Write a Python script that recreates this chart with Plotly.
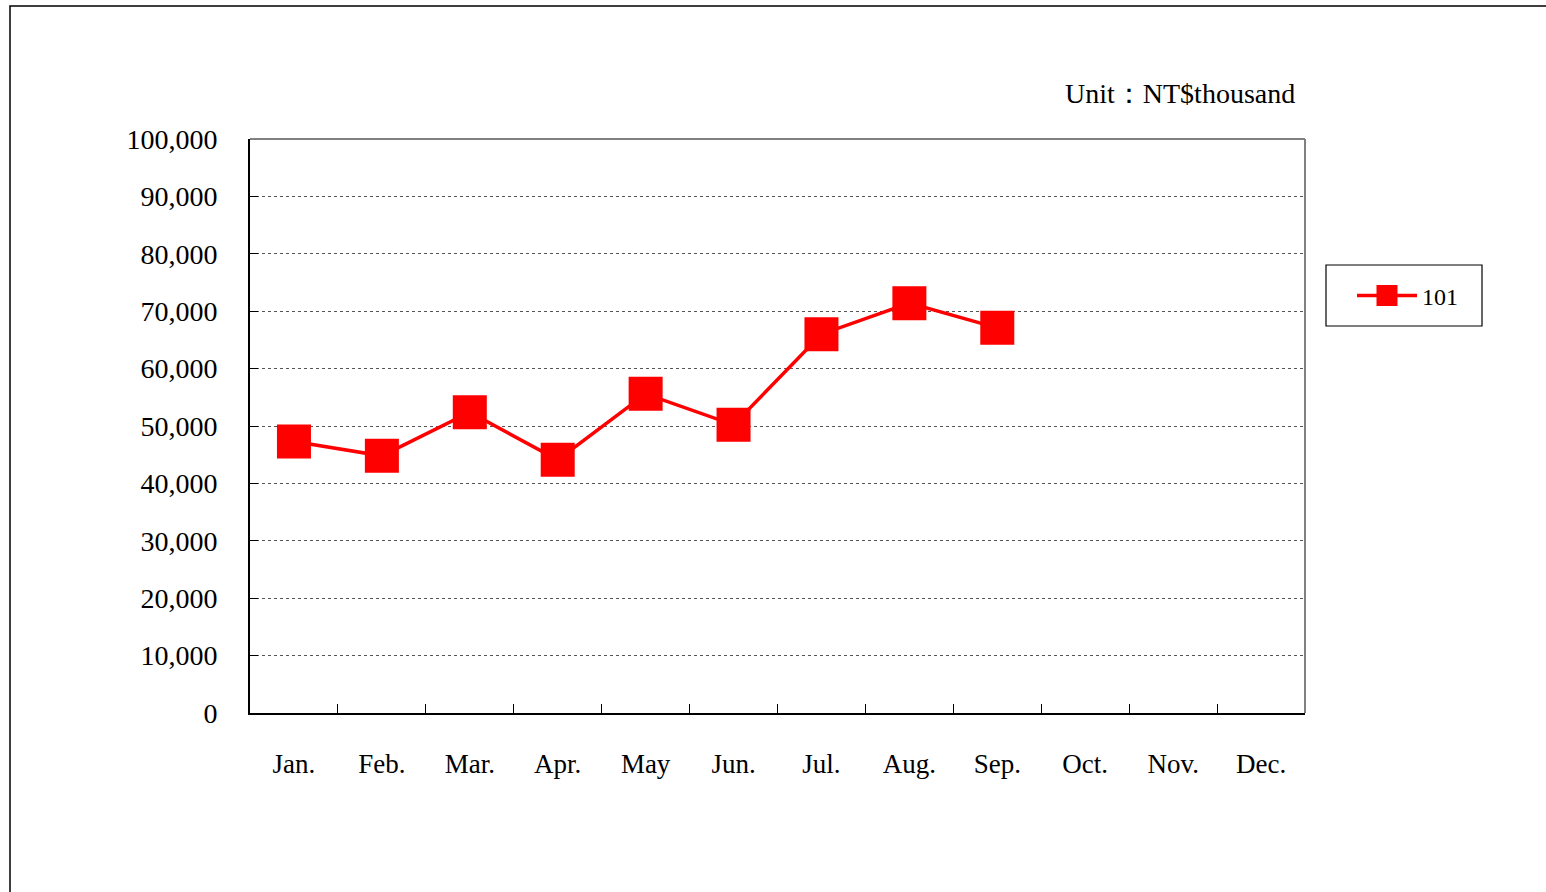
import plotly.graph_objects as go

months = ["Jan.", "Feb.", "Mar.", "Apr.", "May", "Jun.", "Jul.", "Aug.", "Sep.", "Oct.", "Nov.", "Dec."]
series_name = "101"
values_101 = [47300, 44800, 52400, 44100, 55600, 50200, 66000, 71400, 67100, None, None, None]
y_ticks = list(range(0, 100001, 10000))

FONT = "Liberation Serif"
W, H = 1546, 892
L, R, T, B = 250, 241, 139, 179
pw, ph = W - L - R, H - T - B

def px(x):
    return (x - L) / pw

def py(y):
    return (H - B - y) / ph

fig = go.Figure()
fig.add_trace(go.Scatter(
    x=months, y=values_101, name=series_name, mode="lines+markers",
    line=dict(color="#ff0000", width=3.5),
    marker=dict(symbol="square", size=29, color="#ff0000",
                line=dict(color="#ff0000", width=5)),
    connectgaps=False,
))

fig.update_layout(
    width=W, height=H,
    margin=dict(l=L, r=R, t=T, b=B),
    paper_bgcolor="white", plot_bgcolor="white",
    font=dict(family=FONT, size=27, color="#000000"),
    showlegend=True,
    legend=dict(
        x=px(1352), y=py(296), xanchor="left", yanchor="middle",
        borderwidth=0, bgcolor="rgba(0,0,0,0)",
        font=dict(family=FONT, size=24),
        itemwidth=60,
    ),
    xaxis=dict(
        type="category", categoryorder="array", categoryarray=months,
        range=[-0.5, 11.5],
        showline=True, linecolor="#000000", linewidth=2,
        ticks="inside", tickson="boundaries", ticklen=9, tickcolor="#000000",
        showgrid=False, zeroline=False,
        ticklabelstandoff=26,
        tickfont=dict(family=FONT, size=27),
        mirror=False,
    ),
    yaxis=dict(
        range=[0, 100000], tickvals=y_ticks, tickformat=",",
        showline=True, linecolor="#000000", linewidth=2,
        ticks="inside", ticklen=8, tickcolor="#000000",
        showgrid=True, gridcolor="#555555", griddash="dot", gridwidth=1,
        zeroline=False,
        ticklabelstandoff=25,
        tickfont=dict(family=FONT, size=28),
    ),
    shapes=[
        # top and right plot border (gray)
        dict(type="line", xref="paper", yref="paper", x0=0, x1=1, y0=1, y1=1,
             line=dict(color="#808080", width=2)),
        dict(type="line", xref="paper", yref="paper", x0=1, x1=1, y0=0, y1=1,
             line=dict(color="#808080", width=2)),
        # legend frame
        dict(type="rect", xref="paper", yref="paper",
             x0=px(1326), x1=px(1482), y0=py(265), y1=py(326),
             line=dict(color="#000000", width=1.2)),
        # outer frame
        dict(type="rect", xref="paper", yref="paper",
             x0=px(10), x1=px(1600), y0=py(6), y1=py(950),
             line=dict(color="#000000", width=1.5)),
    ],
    annotations=[
        dict(text="Unit：NT$thousand", xref="paper", yref="paper",
             x=px(1297), y=py(93), xanchor="right", yanchor="middle",
             showarrow=False, font=dict(family=FONT, size=28)),
    ],
)

fig.write_html("out.html", config={"displayModeBar": False},
               post_script="document.body.style.margin='0';")
